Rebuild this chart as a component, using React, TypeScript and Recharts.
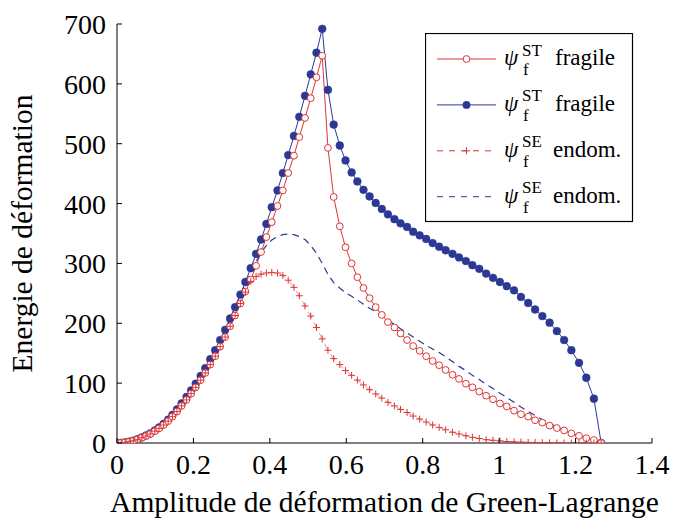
import React from 'react';
import { LineChart, Line, XAxis, YAxis, Legend } from 'recharts';

// Green-Lagrange strain amplitude (x) for every computed point
const strain = [
  0, 0.011, 0.021, 0.032, 0.043, 0.054, 0.065, 0.076, 0.087, 0.099,
  0.110, 0.122, 0.134, 0.145, 0.157, 0.169, 0.182, 0.194, 0.206, 0.219,
  0.231, 0.244, 0.257, 0.270, 0.283, 0.296, 0.309, 0.323, 0.336, 0.350,
  0.364, 0.377, 0.391, 0.405, 0.420, 0.434, 0.448, 0.463, 0.477, 0.492,
  0.507, 0.522, 0.537, 0.552, 0.567, 0.583, 0.598, 0.614, 0.629, 0.645,
  0.661, 0.677, 0.693, 0.709, 0.726, 0.742, 0.759, 0.775, 0.792, 0.809,
  0.826, 0.843, 0.860, 0.878, 0.895, 0.913, 0.930, 0.948, 0.966, 0.984,
  1.002, 1.020, 1.039, 1.057, 1.076, 1.094, 1.113, 1.132, 1.151, 1.170,
  1.189, 1.209, 1.228, 1.248, 1.267,
];

// psi_f^ST fragile (red, open circles)
const redST = [
  0, 0.3, 0.9, 2.2, 3.7, 6.1, 8.9, 11.7, 15, 19.7,
  24.4, 30, 36.5, 44, 52.5, 62, 72, 82.5, 93, 105,
  117, 131, 145, 161, 177, 195, 213, 233, 253, 273,
  296, 319, 344, 369, 396, 422, 451, 480, 511, 543,
  576, 611, 647, 493, 411, 362, 327, 300, 277, 259,
  242, 227, 214, 202, 193, 183, 172, 162, 154, 145,
  137, 130, 122, 114, 107, 99, 93, 86, 79, 73,
  66, 61, 54, 48, 44, 38, 34, 29, 25, 21,
  16, 12, 8, 5, 0,
];

// psi_f^ST fragile (blue, filled circles)
const blueST = [
  0, 0.3, 1, 2.3, 4, 6.5, 9.5, 12.5, 16, 21,
  26, 32, 39, 47, 56, 66, 77, 88, 99, 112,
  125, 140, 155, 172, 189, 208, 227, 248, 269, 292,
  316, 340, 366, 394, 422, 451, 481, 513, 545, 580,
  616, 652, 692, 590, 532, 497, 472, 452, 437, 423,
  412, 401, 391, 382, 374, 367, 361, 353, 347, 341,
  334, 328, 322, 316, 310, 304, 297, 291, 283, 276,
  269, 262, 255, 244, 234, 223, 212, 201, 187, 172,
  155, 134, 109, 74, 0,
];

// psi_f^SE endom. (red, dashed with plus markers)
const redSE = [
  0, 0.3, 0.9, 2.2, 3.7, 6.1, 8.9, 11.7, 15, 19.7,
  24.4, 30, 36.5, 44, 52.5, 62, 72, 82.5, 93, 105,
  117, 131, 145, 161, 177, 195, 213, 233, 252, 270,
  278, 282, 284, 285, 284, 280, 272, 260, 246, 229,
  212, 193, 174, 155, 141, 131, 121, 113, 105, 97,
  89, 82, 75, 68, 62, 56, 51, 45, 40, 35,
  30, 26, 22, 18, 15, 12, 9.5, 7.5, 5.5, 4.5,
  3.5, 2.5, 2, 1.5, 1, 0.8, 0.5, 0.3, 0.2, 0.1,
  0, 0, 0, 0, 0,
];

// psi_f^SE endom. (blue, dashed)
const blueSE = [
  0, 0.3, 1, 2.3, 4, 6.5, 9.5, 12.5, 16, 21,
  26, 32, 39, 47, 56, 66, 77, 88, 99, 112,
  125, 140, 155, 172, 189, 208, 227, 248, 267, 286,
  303, 318, 330, 339, 345, 348, 349, 348, 345, 340,
  330, 317, 300, 282, 268, 259, 251, 245, 239, 232,
  225, 219, 212, 205, 198, 191, 184, 177, 170, 163,
  157, 151, 144, 136, 128, 121, 113, 106, 98, 91,
  83, 76, 68, 60, 53, 46, 39, 33, 27, 21,
  16, 11, 7, 3, 0,
];

const xTicks = [0, 0.2, 0.4, 0.6, 0.8, 1, 1.2, 1.4];
const xTickLabels = ['0', '0.2', '0.4', '0.6', '0.8', '1', '1.2', '1.4'];
const yTicks = [0, 100, 200, 300, 400, 500, 600, 700];
const yTickLabels = ['0', '100', '200', '300', '400', '500', '600', '700'];

const legendLabels = [
  { sup: 'ST', word: 'fragile' },
  { sup: 'ST', word: 'fragile' },
  { sup: 'SE', word: 'endom.' },
  { sup: 'SE', word: 'endom.' },
];

const xTitle = 'Amplitude de déformation de Green-Lagrange';
const yTitle = 'Energie de déformation';

const RED = '#dd3535';
const BLUE = '#2d3894';
const FONT = 'Liberation Serif, Times New Roman, serif';
const DASH = '7 5';

const data = strain.map((x, i) => ({
  x,
  redST: redST[i],
  blueST: blueST[i],
  redSE: redSE[i],
  blueSE: blueSE[i],
}));

const textStyle = { fontFamily: FONT };

const BottomTick = (props: any) => {
  const { x, y, payload, index } = props;
  const idx = xTicks.indexOf(payload.value);
  return (
    <g key={`bx-${index}`}>
      <line x1={x} x2={x} y1={y} y2={y - 5} stroke="#000" strokeWidth={1} />
      <text x={x} y={y + 31} textAnchor="middle" style={textStyle} fontSize={28} fill="#000">
        {idx >= 0 ? xTickLabels[idx] : payload.value}
      </text>
    </g>
  );
};

const TopTick = (props: any) => {
  const { x, y, index } = props;
  return <line key={`tx-${index}`} x1={x} x2={x} y1={y} y2={y + 5} stroke="#000" strokeWidth={1} />;
};

const LeftTick = (props: any) => {
  const { x, y, payload, index } = props;
  const idx = yTicks.indexOf(payload.value);
  return (
    <g key={`ly-${index}`}>
      <line x1={x} x2={x + 5} y1={y} y2={y} stroke="#000" strokeWidth={1} />
      <text x={x - 11} y={y + 10} textAnchor="end" style={textStyle} fontSize={28} fill="#000">
        {idx >= 0 ? yTickLabels[idx] : payload.value}
      </text>
    </g>
  );
};

const RightTick = (props: any) => {
  const { x, y, index } = props;
  return <line key={`ry-${index}`} x1={x} x2={x - 5} y1={y} y2={y} stroke="#000" strokeWidth={1} />;
};

const OpenCircle = (props: any) => {
  const { cx, cy, index } = props;
  if (cx == null || cy == null) return <g key={`oc-${index}`} />;
  return <circle key={`oc-${index}`} cx={cx} cy={cy} r={3.4} fill="#fff" stroke={RED} strokeWidth={1} />;
};

const FilledCircle = (props: any) => {
  const { cx, cy, index } = props;
  if (cx == null || cy == null) return <g key={`fc-${index}`} />;
  return <circle key={`fc-${index}`} cx={cx} cy={cy} r={3.9} fill={BLUE} stroke={BLUE} strokeWidth={0.5} />;
};

const PlusMark = (props: any) => {
  const { cx, cy, index } = props;
  if (cx == null || cy == null) return <g key={`pm-${index}`} />;
  return (
    <path
      key={`pm-${index}`}
      d={`M${cx - 3.5},${cy}H${cx + 3.5}M${cx},${cy - 3.5}V${cy + 3.5}`}
      stroke={RED}
      strokeWidth={1}
      fill="none"
    />
  );
};

const LegendBox = () => {
  const styles = [
    { color: RED, dash: undefined as string | undefined, marker: 'open' },
    { color: BLUE, dash: undefined as string | undefined, marker: 'dot' },
    { color: RED, dash: '6 6', marker: 'plus' },
    { color: BLUE, dash: '6 6', marker: 'none' },
  ];
  return (
    <svg width={209} height={190} style={{ display: 'block' }}>
      <rect x={0.5} y={0.5} width={207} height={188} fill="#fff" stroke="#000" strokeWidth={1.2} />
      {legendLabels.map((item, i) => {
        const cy = 26 + i * 45.9;
        const s = styles[i];
        return (
          <g key={i}>
            <line x1={12} x2={71} y1={cy} y2={cy} stroke={s.color} strokeWidth={1} strokeDasharray={s.dash} />
            {s.marker === 'open' && <circle cx={41.5} cy={cy} r={3.4} fill="#fff" stroke={RED} strokeWidth={1} />}
            {s.marker === 'dot' && <circle cx={41.5} cy={cy} r={3.9} fill={BLUE} />}
            {s.marker === 'plus' && (
              <path d={`M38,${cy}H45M41.5,${cy - 3.5}V${cy + 3.5}`} stroke={RED} strokeWidth={1} />
            )}
            <text x={79} y={cy + 6} style={textStyle} fontStyle="italic" fontSize={23} fill="#000">ψ</text>
            <text x={97} y={cy - 3.5} style={textStyle} fontSize={17} fill="#000">{item.sup}</text>
            <text x={98} y={cy + 16} style={textStyle} fontSize={17} fill="#000">f</text>
            <text x={item.word === 'fragile' ? 130 : 128} y={cy + 6} style={textStyle} fontSize={23} fill="#000">
              {item.word}
            </text>
          </g>
        );
      })}
    </svg>
  );
};

const XTitle = (props: any) => {
  const vb = props.viewBox || {};
  return (
    <text x={vb.x + vb.width / 2} y={vb.y + 69} textAnchor="middle" style={textStyle} fontSize={29.5} fill="#000">
      {xTitle}
    </text>
  );
};

const YTitle = (props: any) => {
  const vb = props.viewBox || {};
  const cx = 32;
  const cy = vb.y + vb.height / 2;
  return (
    <text
      x={cx}
      y={cy}
      transform={`rotate(-90, ${cx}, ${cy})`}
      textAnchor="middle"
      style={textStyle}
      fontSize={29.5}
      fill="#000"
    >
      {yTitle}
    </text>
  );
};

export default function App() {
  return (
    <div style={{ position: 'absolute', left: 0, top: 0, width: 674, height: 518, background: '#fff' }}>
      <LineChart width={674} height={518} data={data} margin={{ top: 24, right: 22, left: 0, bottom: 0 }}>
        <XAxis
          dataKey="x"
          type="number"
          domain={[0, 1.4]}
          ticks={xTicks}
          interval={0}
          allowDataOverflow
          height={75}
          tickSize={0}
          tickMargin={0}
          tickLine={false}
          axisLine={{ stroke: '#000', strokeWidth: 1 }}
          tick={BottomTick}
          label={<XTitle />}
        />
        <XAxis
          xAxisId="top"
          orientation="top"
          dataKey="x"
          type="number"
          domain={[0, 1.4]}
          ticks={xTicks}
          interval={0}
          allowDataOverflow
          height={0}
          tickSize={0}
          tickMargin={0}
          tickLine={false}
          axisLine={{ stroke: '#000', strokeWidth: 1 }}
          tick={TopTick}
        />
        <YAxis
          type="number"
          domain={[0, 700]}
          ticks={yTicks}
          interval={0}
          allowDataOverflow
          width={117}
          tickSize={0}
          tickMargin={0}
          tickLine={false}
          axisLine={{ stroke: '#000', strokeWidth: 1 }}
          tick={LeftTick}
          label={<YTitle />}
        />
        <YAxis
          yAxisId="right"
          orientation="right"
          type="number"
          domain={[0, 700]}
          ticks={yTicks}
          interval={0}
          allowDataOverflow
          width={0}
          tickSize={0}
          tickMargin={0}
          tickLine={false}
          axisLine={{ stroke: '#000', strokeWidth: 1 }}
          tick={RightTick}
        />
        <Legend
          layout="horizontal"
          verticalAlign="middle"
          align="center"
          content={() => <LegendBox />}
          wrapperStyle={{ position: 'absolute', left: 425, top: 33, width: 209, height: 190 }}
        />
        <Line
          type="linear"
          dataKey="blueST"
          stroke={BLUE}
          strokeWidth={1}
          dot={FilledCircle}
          activeDot={false}
          isAnimationActive={false}
        />
        <Line
          type="linear"
          dataKey="redST"
          stroke={RED}
          strokeWidth={1}
          dot={OpenCircle}
          activeDot={false}
          isAnimationActive={false}
        />
        <Line
          type="linear"
          dataKey="redSE"
          stroke={RED}
          strokeWidth={1}
          strokeDasharray={DASH}
          strokeOpacity={0.55}
          dot={PlusMark}
          activeDot={false}
          isAnimationActive={false}
        />
        <Line
          type="linear"
          dataKey="blueSE"
          stroke={BLUE}
          strokeWidth={1.2}
          strokeDasharray={DASH}
          dot={false}
          activeDot={false}
          isAnimationActive={false}
        />
      </LineChart>
    </div>
  );
}
